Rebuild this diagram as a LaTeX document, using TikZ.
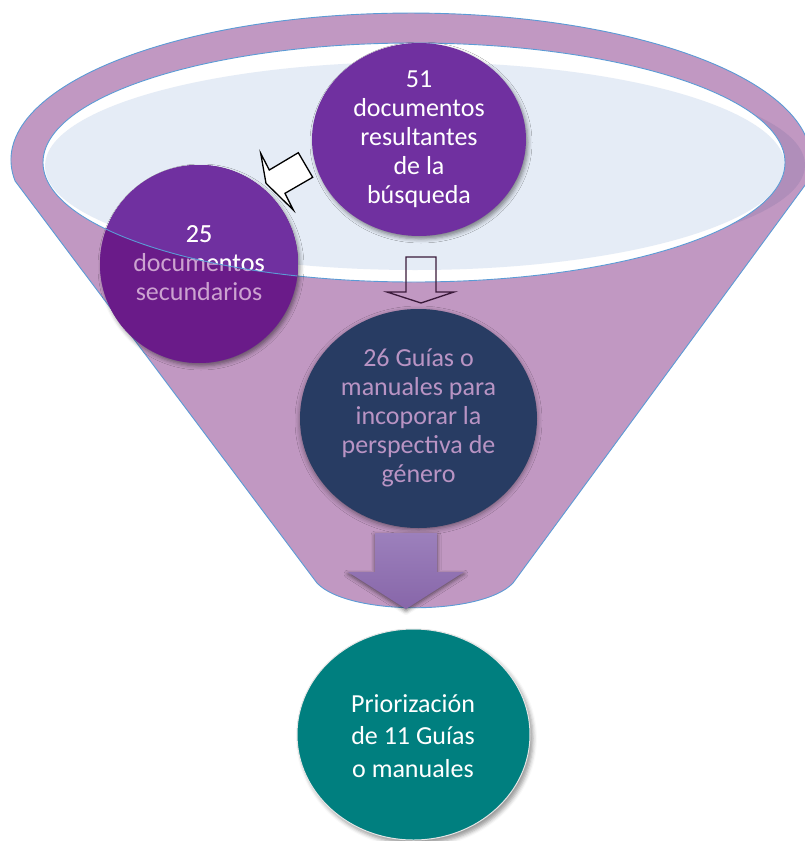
\documentclass[tikz,border=0pt]{standalone}
\usepackage{fontspec}
\setmainfont{Carlito}
\usetikzlibrary{shapes.geometric,shadows.blur}

\definecolor{funnel}{HTML}{C198C2}
\definecolor{rimline}{HTML}{5B9BD5}
\definecolor{pool}{HTML}{E5ECF6}
\definecolor{rimshade}{HTML}{B08EBA}
\definecolor{violet}{HTML}{7030A0}
\definecolor{violetdeep}{HTML}{6A1B89}
\definecolor{navy}{HTML}{283C63}
\definecolor{tealc}{HTML}{007F7F}
\definecolor{lilac}{HTML}{CCA3D0}
\definecolor{lilacdim}{HTML}{B994C4}
\definecolor{arrowtop}{HTML}{9C80BC}
\definecolor{arrowbot}{HTML}{8766A9}
\definecolor{arrowedge}{HTML}{3A1A3A}

\tikzset{
  bubble/.style={ellipse, inner sep=0pt},
  caption/.style={align=center, inner sep=0pt, font=\fontsize{26}{29}\selectfont},
  softshadow/.style={blur shadow={shadow xshift=2pt, shadow yshift=-3pt,
      shadow blur radius=4pt, shadow opacity=45}},
  rim/.style={draw=rimline, line width=0.9pt},
}

\begin{document}
\begin{tikzpicture}[x=1pt,y=-1pt]
\useasboundingbox (0,0) rectangle (805,841);

% funnel: rim top and tapered body
\path[fill=funnel, rim] (15.1,181)
  arc[start angle=171.8, end angle=369.8, x radius=400, y radius=147]
  -- (513,583) .. controls (482,616) and (348,616) .. (317,583) -- cycle;

% inner shading of the rim on the right
\begin{scope}
  \clip (411,160) ellipse[x radius=400, y radius=147];
  \fill[rimshade] (434,165) ellipse[x radius=371, y radius=100];
\end{scope}

% opening of the funnel
\fill[white] (414,162.5) ellipse[x radius=371, y radius=119.5];
\begin{scope}
  \clip (414,162.5) ellipse[x radius=371, y radius=119.5];
  \fill[pool] (415,166) ellipse[x radius=370, y radius=104];
\end{scope}
\draw[rim] (414,162.5) ellipse[x radius=371, y radius=119.5];

% search results
\node[bubble, fill=violet, minimum width=214pt, minimum height=193pt, softshadow]
  (c51) at (419,139.5) {};
\node[caption, text=white] (t51) at (c51.center)
  {51\\documentos\\resultantes\\de la\\búsqueda};

% secondary documents, partly sunk below the rim
\node[circle, minimum size=198pt, inner sep=0pt, fill=violet, softshadow]
  (c25) at (199,264) {};
\begin{scope}
  \clip (199,264) circle[radius=99];
  \fill[violetdeep] (100,165) rectangle (298,363);
  \fill[violet] (414,162.5) ellipse[x radius=371, y radius=119.5];
  \node[caption, text=lilac] (t25) at (199,263) {25\\documentos\\secundarios};
  \begin{scope}
    \clip (414,162.5) ellipse[x radius=371, y radius=119.5];
    \node[caption, text=white] at (t25.center) {25\\documentos\\secundarios};
  \end{scope}
  \draw[rim] (414,162.5) ellipse[x radius=371, y radius=119.5];
\end{scope}

% arrow from the results to the secondary documents
\draw[fill=white, line width=1.3pt, line join=miter]
  (260.7,153.3) -- (269.3,170) -- (298.3,152.7) -- (312.7,177.3)
  -- (285,193.3) -- (293.3,210) -- (266,183.3) -- cycle;

% hollow arrow down to the guides
\draw[draw=arrowedge, line width=1.3pt, line join=miter]
  (406,257) -- (436,257) -- (436,292) -- (454,292) -- (421,303)
  -- (387,292) -- (406,292) -- cycle;

% guides and manuals
\node[bubble, fill=navy, minimum width=237pt, minimum height=219pt,
  blur shadow={shadow xshift=0pt, shadow yshift=-2pt, shadow blur radius=5pt, shadow opacity=45}]
  (c26) at (418.5,418.5) {};
\node[caption, text=lilacdim] (t26) at (418.5,418)
  {26 Guías o\\manuales para\\incoporar la\\perspectiva de\\género};

% funnel outlet arrow
\path[top color=arrowtop, bottom color=arrowbot,
  blur shadow={shadow xshift=0pt, shadow yshift=-2pt, shadow blur radius=4pt, shadow opacity=55}]
  (375,533) -- (437,533) -- (437,572) -- (464,572) -- (406,609)
  -- (348,572) -- (375,572) -- cycle;

% prioritised result
\node[bubble, fill=tealc, draw=white!80!gray, line width=1pt,
  minimum width=233pt, minimum height=211pt,
  blur shadow={shadow xshift=3pt, shadow yshift=-4pt, shadow blur radius=4pt, shadow opacity=40}]
  (c11) at (413.5,734.5) {};
\node[caption, text=white, font=\fontsize{26}{32.5}\selectfont] (t11) at (413,736)
  {Priorización\\de 11 Guías\\o manuales};
\end{tikzpicture}
\end{document}
